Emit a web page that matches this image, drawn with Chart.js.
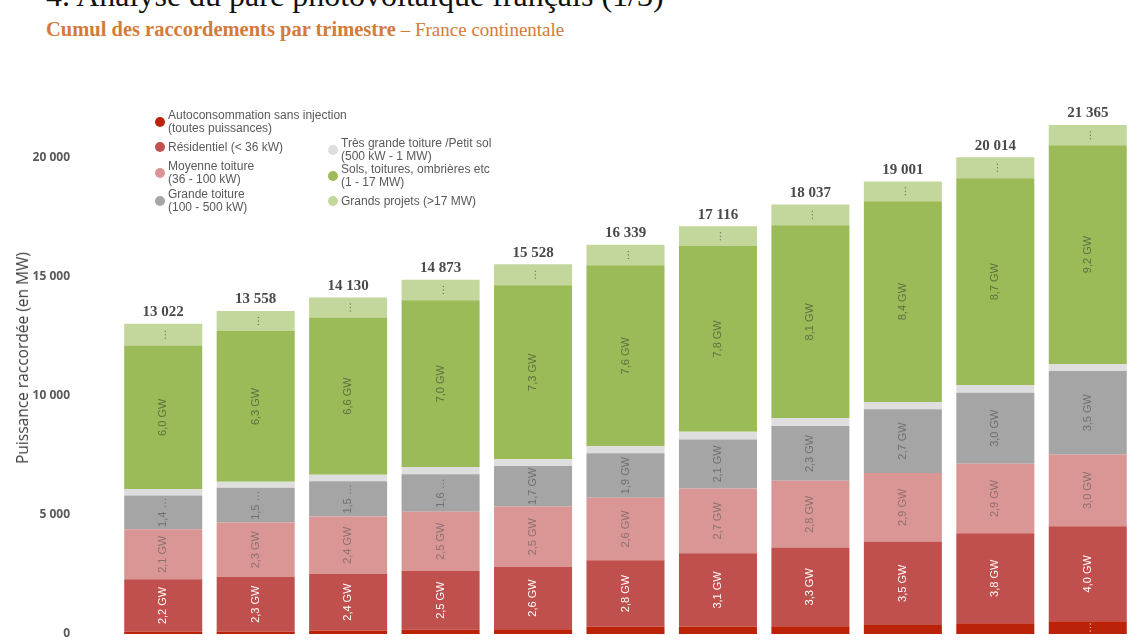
<!DOCTYPE html>
<html lang="fr">
<head>
<meta charset="utf-8">
<script src="https://cdn.jsdelivr.net/npm/chart.js@4"></script>
<style>
    html, body { margin: 0; padding: 0; background: #fff; }
    body { width: 1147px; height: 640px; position: relative; overflow: hidden; }
    #pageTitle { position: absolute; left: 46px; top: -21px; font: 32px "Liberation Serif", serif; line-height: 32px; color: #111; white-space: nowrap; }
    #subTitle { position: absolute; left: 46px; top: 18px; font: 19px "Liberation Serif", serif; color: #d27b3a; white-space: nowrap; }
    #subTitle b { font-weight: bold; font-size: 20.5px; }
    #chartBox { position: absolute; left: 0; top: 0; width: 1147px; height: 640px; }
    #yTitle { position: absolute; left: 22px; top: 358px; transform: translate(-50%, -50%) rotate(-90deg); font: 15.5px "Open Sans", sans-serif; color: #404040; white-space: nowrap; }
    .leg { position: absolute; font: 12px "Liberation Sans", Arial, sans-serif; color: #595959; line-height: 13px; }
    .leg i { position: absolute; left: -13px; top: 50%; width: 10px; height: 10px; margin-top: -5px; border-radius: 50%; }
</style>
</head>
<body>
<div id="pageTitle">4. Analyse du parc photovoltaïque français (1/3)</div>
<div id="subTitle"><b>Cumul des raccordements par trimestre</b> – France continentale</div>
<div id="chartBox"><canvas id="raccChart" width="1147" height="640"></canvas></div>
<div id="yTitle">Puissance raccordée (en MW)</div>
<div id="legend"></div>
<script>
// trimestres (axe x non visible sur la capture)
var trimestres = ['T1', 'T2', 'T3', 'T4', 'T5', 'T6', 'T7', 'T8', 'T9', 'T10', 'T11'];
var totaux = [13022, 13558, 14130, 14873, 15528, 16339, 17116, 18037, 19001, 20014, 21365];

// puissances raccordées en MW, par segment
var autoconso = [100, 100, 150, 180, 200, 300, 310, 330, 380, 450, 540];
var residentiel = [2200, 2300, 2380, 2480, 2620, 2800, 3080, 3300, 3500, 3780, 3980];
var moyenneToiture = [2100, 2280, 2400, 2470, 2530, 2620, 2720, 2800, 2880, 2920, 3020];
var grandeToiture = [1420, 1460, 1480, 1580, 1700, 1870, 2060, 2300, 2680, 2980, 3500];
var tresGrandeToiture = [270, 250, 280, 300, 290, 290, 320, 330, 300, 320, 300];
var solsToitures = [6020, 6330, 6600, 7000, 7300, 7600, 7800, 8100, 8430, 8680, 9180];
var grandsProjets = [912, 838, 840, 863, 888, 859, 826, 877, 831, 884, 845];

var yTicks = [0, 5000, 10000, 15000, 20000];

var series = [
    { label: ['Autoconsommation sans injection', '(toutes puissances)'], data: autoconso, color: '#bb2208', text: '#f3d0c8', col: 0, y: 122 },
    { label: ['Résidentiel (< 36 kW)'], data: residentiel, color: '#c0504d', text: '#ffffff', col: 0, y: 147 },
    { label: ['Moyenne toiture', '(36 - 100 kW)'], data: moyenneToiture, color: '#d99694', text: '#8c7070', col: 0, y: 173 },
    { label: ['Grande toiture', '(100 - 500 kW)'], data: grandeToiture, color: '#a5a5a5', text: '#6f6f6f', col: 0, y: 201 },
    { label: ['Très grande toiture /Petit sol', '(500 kW - 1 MW)'], data: tresGrandeToiture, color: '#dedede', text: '#888888', col: 1, y: 150 },
    { label: ['Sols, toitures, ombrières etc', '(1 - 17 MW)'], data: solsToitures, color: '#9bbb59', text: '#5f7040', col: 1, y: 176 },
    { label: ['Grands projets (>17 MW)'], data: grandsProjets, color: '#c3d69b', text: '#5f6f50', col: 1, y: 201 }
];

function formatMW(v) {
    return String(v).replace(/\B(?=(\d{3})+(?!\d))/g, ' ');
}

// légende en HTML, deux colonnes
var legendBox = document.getElementById('legend');
series.forEach(function (s) {
    var div = document.createElement('div');
    div.className = 'leg';
    div.style.left = (s.col === 0 ? 168 : 341) + 'px';
    div.style.top = (s.y - s.label.length * 6.5) + 'px';
    div.innerHTML = '<i style="background:' + s.color + '"></i>' + s.label.join('<br>');
    legendBox.appendChild(div);
});

// étiquettes verticales "x,x GW" dans chaque segment + totaux
var segmentLabels = {
    id: 'segmentLabels',
    afterDatasetsDraw: function (chart) {
        var ctx = chart.ctx;
        ctx.save();
        ctx.font = '11px "Liberation Sans", Arial, sans-serif';
        ctx.textAlign = 'center';
        ctx.textBaseline = 'middle';
        chart.data.datasets.forEach(function (ds, i) {
            var meta = chart.getDatasetMeta(i);
            meta.data.forEach(function (bar, j) {
                var h = bar.base - bar.y;
                var avail = h - 2;
                var txt = (ds.data[j] / 1000).toFixed(1).replace('.', ',') + ' GW';
                if (ctx.measureText(txt).width > avail) {
                    if (h < 12) return;
                    var cut = txt;
                    while (cut.length > 0 && ctx.measureText(cut + '…').width > avail) {
                        cut = cut.slice(0, -1);
                    }
                    if (cut.length < 3) cut = '';
                    txt = cut + '…';
                }
                ctx.save();
                ctx.translate(bar.x, (bar.y + bar.base) / 2);
                ctx.rotate(-Math.PI / 2);
                ctx.fillStyle = series[i].text;
                ctx.fillText(txt, 0, 0);
                ctx.restore();
            });
        });
        var last = chart.getDatasetMeta(chart.data.datasets.length - 1);
        ctx.font = 'bold 15px "Liberation Serif", serif';
        ctx.fillStyle = '#4a4a4a';
        ctx.textBaseline = 'bottom';
        last.data.forEach(function (bar, j) {
            ctx.fillText(formatMW(totaux[j]), bar.x, bar.y - 4);
        });
        ctx.restore();
    }
};

var ctxRacc = document.getElementById('raccChart').getContext('2d');
var raccChart = new Chart(ctxRacc, {
    type: 'bar',
    data: {
        labels: trimestres,
        datasets: series.map(function (s) {
            return {
                label: s.label.join(' '),
                data: s.data,
                backgroundColor: s.color,
                borderWidth: 0,
                barPercentage: 0.844,
                categoryPercentage: 1
            };
        })
    },
    options: {
        responsive: false,
        animation: false,
        layout: {
            padding: { top: 110, bottom: 6, left: 0, right: 13 }
        },
        plugins: {
            legend: { display: false },
            tooltip: { enabled: false }
        },
        scales: {
            x: {
                stacked: true,
                display: false
            },
            y: {
                stacked: true,
                min: 0,
                max: 22000,
                afterFit: function (scale) {
                    scale.width = 117;
                    // la marge des étiquettes ne doit pas rogner la zone du graphique
                    scale.paddingTop = 6;
                    scale.paddingBottom = 6;
                },
                afterBuildTicks: function (scale) {
                    scale.ticks = yTicks.map(function (v) { return { value: v }; });
                },
                grid: { display: false },
                border: { display: false },
                ticks: {
                    padding: 39,
                    color: '#595959',
                    font: { family: '"Open Sans", sans-serif', size: 12, weight: 'bold' },
                    callback: function (v) { return formatMW(v); }
                }
            }
        }
    },
    plugins: [segmentLabels]
});
</script>
</body>
</html>
